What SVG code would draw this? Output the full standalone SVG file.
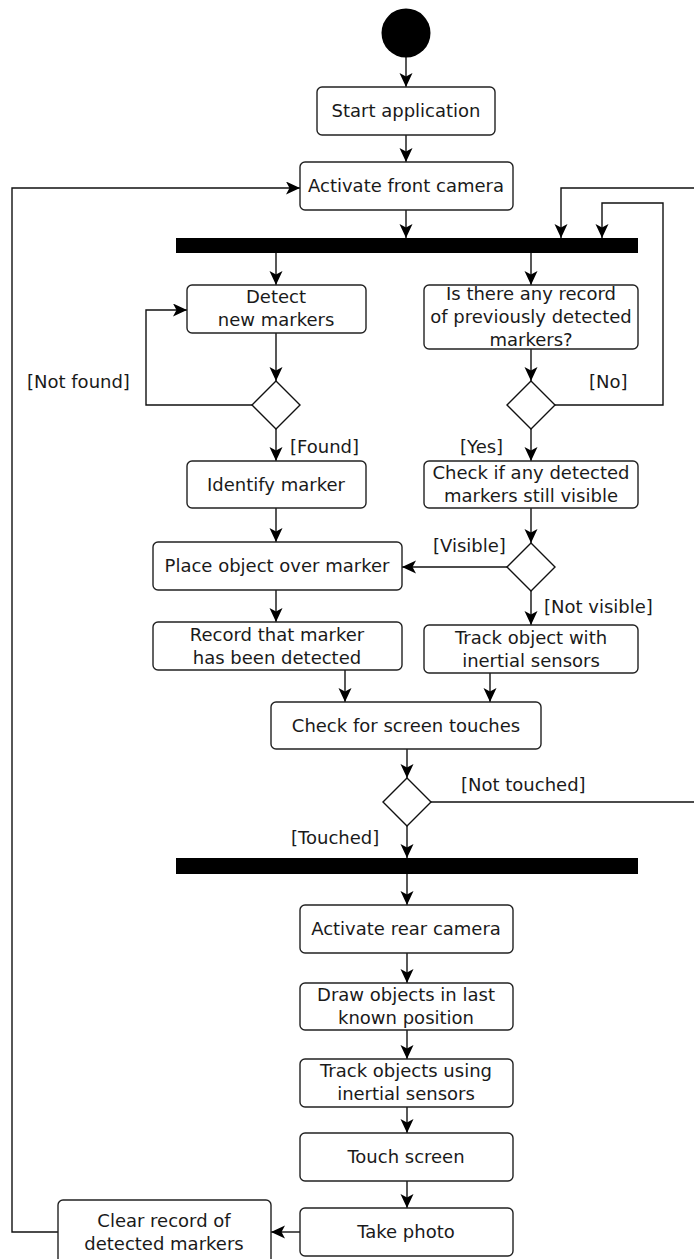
<svg xmlns="http://www.w3.org/2000/svg" width="694" height="1259" viewBox="0 0 694 1259">
<style>
.box{fill:#fff;stroke:#222;stroke-width:1.4}
.dia{fill:#fff;stroke:#111;stroke-width:1.4}
.bar{fill:#000}
.t{font-family:"DejaVu Sans",sans-serif;font-size:18px;fill:#1a1a1a;text-anchor:middle}
.l{font-family:"DejaVu Sans",sans-serif;font-size:18px;fill:#1a1a1a}
.c{fill:none;stroke:#111;stroke-width:1.4}
</style>
<defs>
<marker id="ah" markerWidth="15" markerHeight="14" refX="14" refY="6.5" orient="auto" markerUnits="userSpaceOnUse">
<path d="M0,0 L14,6.5 L0,13 L3.5,6.5 z" fill="#000"/>
</marker>
</defs>
<rect width="694" height="1259" fill="#fff"/>
<g id="connectors">
<path class="c" marker-end="url(#ah)" d="M406,57 V87"/>
<path class="c" marker-end="url(#ah)" d="M406,135 V162"/>
<path class="c" marker-end="url(#ah)" d="M406,210 V238"/>
<path class="c" marker-end="url(#ah)" d="M276,253 V285"/>
<path class="c" marker-end="url(#ah)" d="M531,253 V285"/>
<path class="c" marker-end="url(#ah)" d="M276,333 V381"/>
<path class="c" marker-end="url(#ah)" d="M252,405 H146 V310 H187"/>
<path class="c" marker-end="url(#ah)" d="M276,429 V461"/>
<path class="c" marker-end="url(#ah)" d="M531,349 V381"/>
<path class="c" marker-end="url(#ah)" d="M555,405 H663 V203 H602 V238"/>
<path class="c" marker-end="url(#ah)" d="M531,429 V461"/>
<path class="c" marker-end="url(#ah)" d="M276,508 V542"/>
<path class="c" marker-end="url(#ah)" d="M531,508 V543"/>
<path class="c" marker-end="url(#ah)" d="M507,567 H402"/>
<path class="c" marker-end="url(#ah)" d="M531,591 V625"/>
<path class="c" marker-end="url(#ah)" d="M276,590 V622"/>
<path class="c" marker-end="url(#ah)" d="M345,670 V702"/>
<path class="c" marker-end="url(#ah)" d="M490,673 V702"/>
<path class="c" marker-end="url(#ah)" d="M407,749 V778"/>
<path class="c" marker-end="url(#ah)" d="M431,802 H698 V188 H561 V238"/>
<path class="c" marker-end="url(#ah)" d="M407,826 V858"/>
<path class="c" marker-end="url(#ah)" d="M407,874 V905"/>
<path class="c" marker-end="url(#ah)" d="M407,953 V983"/>
<path class="c" marker-end="url(#ah)" d="M407,1030 V1059"/>
<path class="c" marker-end="url(#ah)" d="M407,1107 V1133"/>
<path class="c" marker-end="url(#ah)" d="M407,1181 V1208"/>
<path class="c" marker-end="url(#ah)" d="M300,1232 H271"/>
<path class="c" marker-end="url(#ah)" d="M58,1232 H12 V188 H300"/>
<text class="l" x="27" y="388">[Not found]</text>
<text class="l" x="589" y="388">[No]</text>
<text class="l" x="290" y="453">[Found]</text>
<text class="l" x="460" y="453">[Yes]</text>
<text class="l" x="433" y="552">[Visible]</text>
<text class="l" x="544" y="613">[Not visible]</text>
<text class="l" x="461" y="791">[Not touched]</text>
<text class="l" x="291" y="844">[Touched]</text>
</g>
<g id="start"><circle cx="406" cy="33" r="24.5" fill="#000"/></g>
<g id="n-start-app"><rect class="box" x="317" y="87" width="178" height="48" rx="5"/><text class="t" x="406" y="117">Start application</text></g>
<g id="n-front-cam"><rect class="box" x="300" y="162" width="213" height="48" rx="5"/><text class="t" x="406" y="192">Activate front camera</text></g>
<g id="fork1"><rect class="bar" x="176" y="238" width="462" height="15"/></g>
<g id="n-detect"><rect class="box" x="187" y="285" width="179" height="48" rx="5"/><text class="t" x="276" y="303">Detect</text><text class="t" x="276" y="326">new markers</text></g>
<g id="n-record-q"><rect class="box" x="424" y="285" width="214" height="64" rx="5"/><text class="t" x="531" y="300">Is there any record</text><text class="t" x="531" y="323">of previously detected</text><text class="t" x="531" y="346">markers?</text></g>
<g id="d-found"><path class="dia" d="M276,381 L300,405 L276,429 L252,405 z"/></g>
<g id="d-record"><path class="dia" d="M531,381 L555,405 L531,429 L507,405 z"/></g>
<g id="n-identify"><rect class="box" x="187" y="461" width="179" height="47" rx="5"/><text class="t" x="276" y="491">Identify marker</text></g>
<g id="n-check-visible"><rect class="box" x="424" y="461" width="214" height="47" rx="5"/><text class="t" x="531" y="479">Check if any detected</text><text class="t" x="531" y="502">markers still visible</text></g>
<g id="d-visible"><path class="dia" d="M531,543 L555,567 L531,591 L507,567 z"/></g>
<g id="n-place"><rect class="box" x="153" y="542" width="249" height="48" rx="5"/><text class="t" x="277" y="572">Place object over marker</text></g>
<g id="n-record-det"><rect class="box" x="153" y="622" width="249" height="48" rx="5"/><text class="t" x="277" y="641">Record that marker</text><text class="t" x="277" y="664">has been detected</text></g>
<g id="n-track-obj"><rect class="box" x="424" y="625" width="214" height="48" rx="5"/><text class="t" x="531" y="644">Track object with</text><text class="t" x="531" y="667">inertial sensors</text></g>
<g id="n-check-touch"><rect class="box" x="271" y="702" width="270" height="47" rx="5"/><text class="t" x="406" y="732">Check for screen touches</text></g>
<g id="d-touch"><path class="dia" d="M407,778 L431,802 L407,826 L383,802 z"/></g>
<g id="fork2"><rect class="bar" x="176" y="858" width="462" height="16"/></g>
<g id="n-rear-cam"><rect class="box" x="300" y="905" width="213" height="48" rx="5"/><text class="t" x="406" y="935">Activate rear camera</text></g>
<g id="n-draw"><rect class="box" x="300" y="983" width="213" height="47" rx="5"/><text class="t" x="406" y="1001">Draw objects in last</text><text class="t" x="406" y="1024">known position</text></g>
<g id="n-track-objs"><rect class="box" x="300" y="1059" width="213" height="48" rx="5"/><text class="t" x="406" y="1077">Track objects using</text><text class="t" x="406" y="1100">inertial sensors</text></g>
<g id="n-touch"><rect class="box" x="300" y="1133" width="213" height="48" rx="5"/><text class="t" x="406" y="1163">Touch screen</text></g>
<g id="n-photo"><rect class="box" x="300" y="1208" width="213" height="48" rx="5"/><text class="t" x="406" y="1238">Take photo</text></g>
<g id="n-clear"><rect class="box" x="58" y="1200" width="213" height="64" rx="5"/><text class="t" x="164" y="1227">Clear record of</text><text class="t" x="164" y="1250">detected markers</text></g>
</svg>
